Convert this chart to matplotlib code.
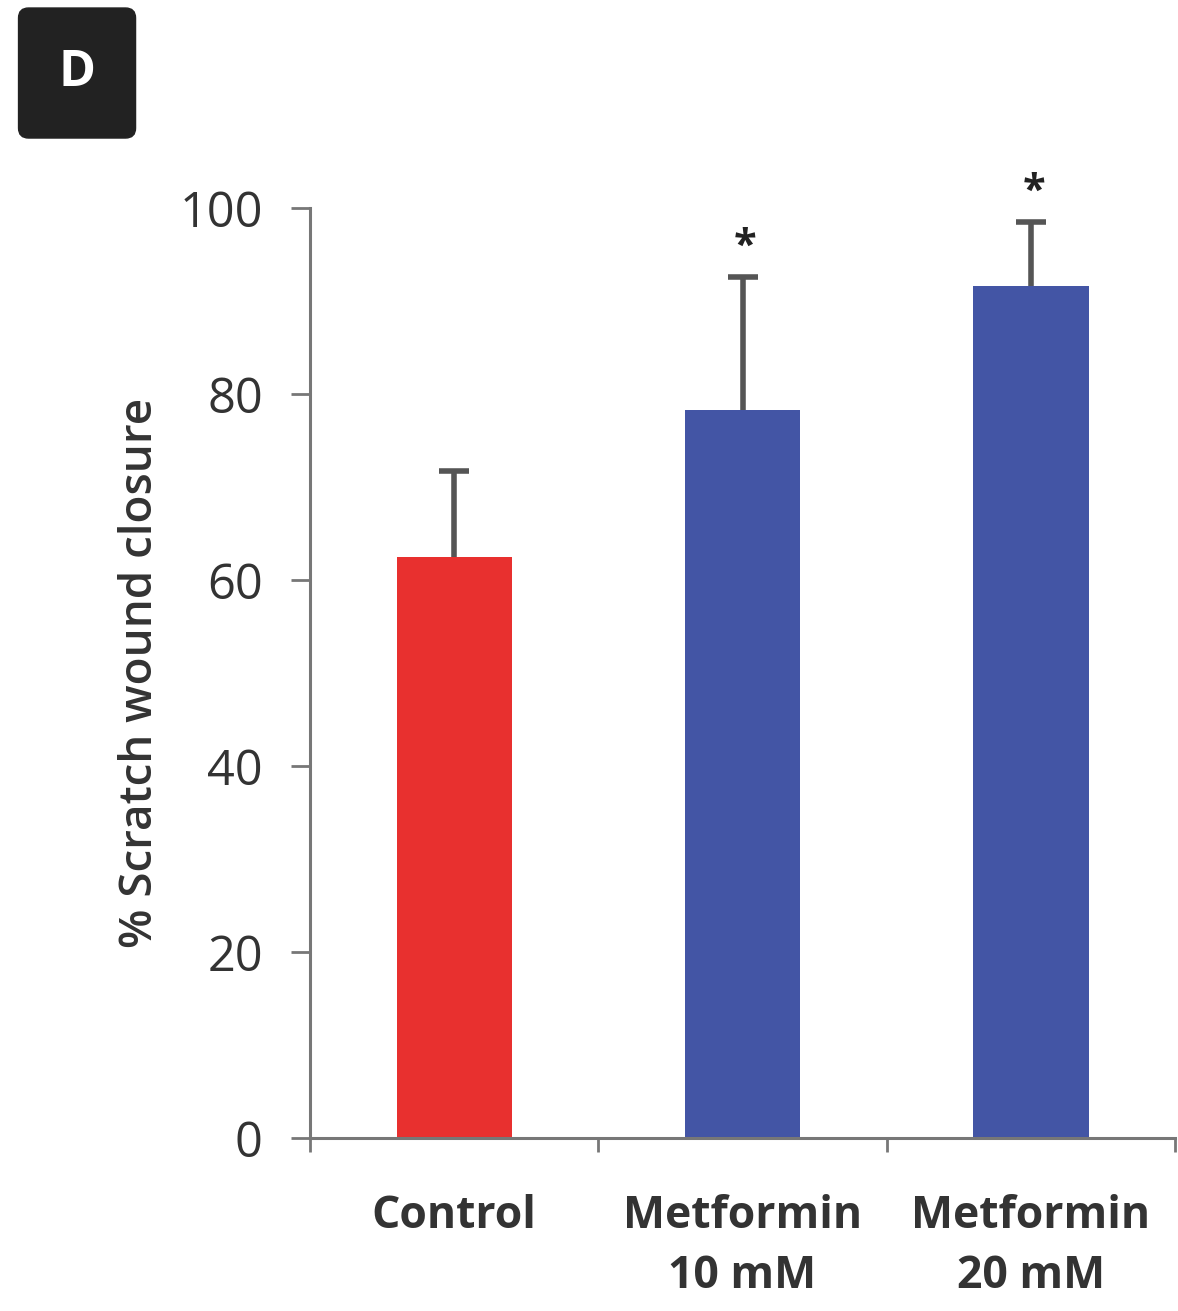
import matplotlib.pyplot as plt
import numpy as np

groups = ['Control', 'Metformin\n10 mM', 'Metformin\n20 mM']
closure = [62.5, 78.3, 91.6]
closure_err = [9.2, 14.3, 6.9]
bar_colors = ['#E8302F', '#4355A5', '#4355A5']
signif = ['', '*', '*']

plt.rcParams['font.family'] = ['Open Sans', 'DejaVu Sans']

fig = plt.figure(figsize=(11.78, 13.11), dpi=100)
ax = fig.add_axes([0.2632, 0.1320, 0.7343, 0.7093])

x = np.arange(len(groups))
ax.bar(x, closure, width=0.4, color=bar_colors, zorder=2)
eb = ax.errorbar(x, closure, yerr=[np.zeros(len(closure)), closure_err], fmt='none',
                 ecolor='#555555', elinewidth=4, capsize=11, capthick=4, zorder=1)
# hide the lower caps (zero length lower error)
eb[1][0].set_visible(False)

for xi, v, e, s in zip(x, closure, closure_err, signif):
    if s:
        ax.text(xi + 0.01, v + e + 1.0, s, ha='center', va='bottom', fontsize=30,
                fontweight='bold', color='#222222', clip_on=False)

ax.set_xlim(-0.5, 2.5)
ax.set_ylim(0, 100)
ax.set_yticks(np.arange(0, 101, 20))
ax.set_xticks([-0.5, 0.5, 1.5, 2.5])
ax.set_xticklabels([])
ax.set_xticks(x, minor=True)
ax.set_xticklabels(groups, minor=True, fontsize=32, fontweight='bold', color='#333333')
ax.tick_params(axis='x', which='minor', length=0, pad=40)
ax.tick_params(axis='x', which='major', length=10, width=2, color='#777777', direction='out')
ax.tick_params(axis='y', length=14, width=2, color='#777777', labelsize=35,
               labelcolor='#333333', pad=20)
for lbl in ax.get_xticklabels(minor=True):
    lbl.set_linespacing(1.45)
    lbl.set_va('top')

ax.spines['top'].set_visible(False)
ax.spines['right'].set_visible(False)
for sp in ['left', 'bottom']:
    ax.spines[sp].set_color('#777777')
    ax.spines[sp].set_linewidth(2.2)

ax.set_ylabel('% Scratch wound closure', fontsize=33, fontweight='semibold',
              color='#333333', labelpad=12)

fig.text(0.0654, 0.9443, 'D', ha='center', va='center', fontsize=36, fontweight='bold',
         color='white',
         bbox=dict(boxstyle='round,pad=0.8,rounding_size=0.2', fc='#222222', ec='#222222'))

fig.savefig('out.png', dpi=100, facecolor='white')
